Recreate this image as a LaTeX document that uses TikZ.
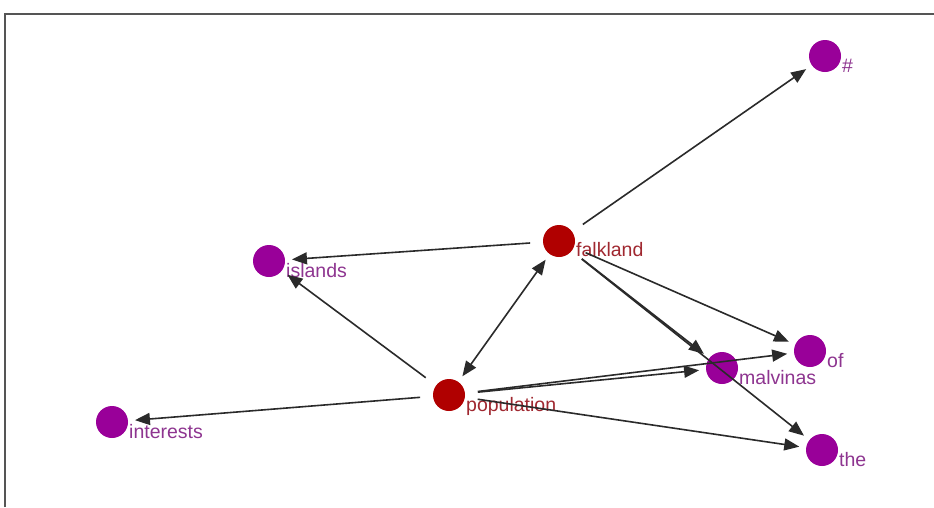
\documentclass[tikz,border=0pt]{standalone}
\usepackage{fontspec}
\setmainfont{Liberation Sans}
\usetikzlibrary{arrows.meta}
\definecolor{rednode}{HTML}{B00000}
\definecolor{purplenode}{HTML}{990099}
\definecolor{redtext}{HTML}{A02830}
\definecolor{purpletext}{HTML}{8E3590}
\definecolor{edgecol}{HTML}{2A2A2A}
\definecolor{framecol}{HTML}{555555}
\tikzset{
  vert/.style={circle,minimum size=32pt,inner sep=0pt,outer sep=0pt},
  rv/.style={vert,fill=rednode},
  pv/.style={vert,fill=purplenode},
  lbl/.style={anchor=base west,inner sep=0pt,font=\fontsize{19.5}{22}\selectfont},
  rl/.style={lbl,text=redtext},
  pl/.style={lbl,text=purpletext},
  edge/.style={draw=edgecol,line width=1.6pt,-{Triangle[length=15pt,width=12pt]},shorten <=13pt,shorten >=7pt},
  dedge/.style={draw=edgecol,line width=1.6pt,{Triangle[length=15pt,width=12pt]}-{Triangle[length=15pt,width=12pt]},shorten <=7pt,shorten >=7pt}
}
\begin{document}
\begin{tikzpicture}[x=1pt,y=-1pt]
\useasboundingbox (0,0) rectangle (934,507);
\fill[white] (0,0) rectangle (934,507);
\coordinate (fa) at (5,507);
\coordinate (fb) at (5,14);
\coordinate (fc) at (934,14);
\draw[framecol,line width=2pt] (fa) -- (fb) -- (fc);

\node[pv] (hash) at (825,56) {};
\node[rv] (falk) at (559,241) {};
\node[pv] (isl) at (269,261) {};
\node[rv] (pop) at (449,395) {};
\node[pv] (int) at (112,422) {};
\node[pv] (mal) at (722,368) {};
\node[pv] (of) at (810,351) {};
\node[pv] (the) at (822,450) {};

\node[pl] (hashl) at (842,72) {\#};
\node[rl] (falkl) at (576,256) {falkland};
\node[pl] (isll) at (286,277) {islands};
\node[rl] (popl) at (466,411) {population};
\node[pl] (intl) at (129,438) {interests};
\node[pl] (mall) at (739,384) {malvinas};
\node[pl] (ofl) at (827,367) {of};
\node[pl] (thel) at (839,466) {the};

\draw[edge] (falk) -- (hash);
\draw[edge] (falk) -- (isl);
\draw[edge] (pop) -- (isl);
\draw[dedge] (falk) -- (pop);
\draw[edge] (pop) -- (int);
\draw[edge] (falk) -- (mal);
\draw[edge] (falk) -- (the);
\draw[edge] (falk) -- (of);
\draw[edge] (pop) -- (mal);
\draw[edge] (pop) -- (of);
\draw[edge] (pop) -- (the);
\end{tikzpicture}
\end{document}
